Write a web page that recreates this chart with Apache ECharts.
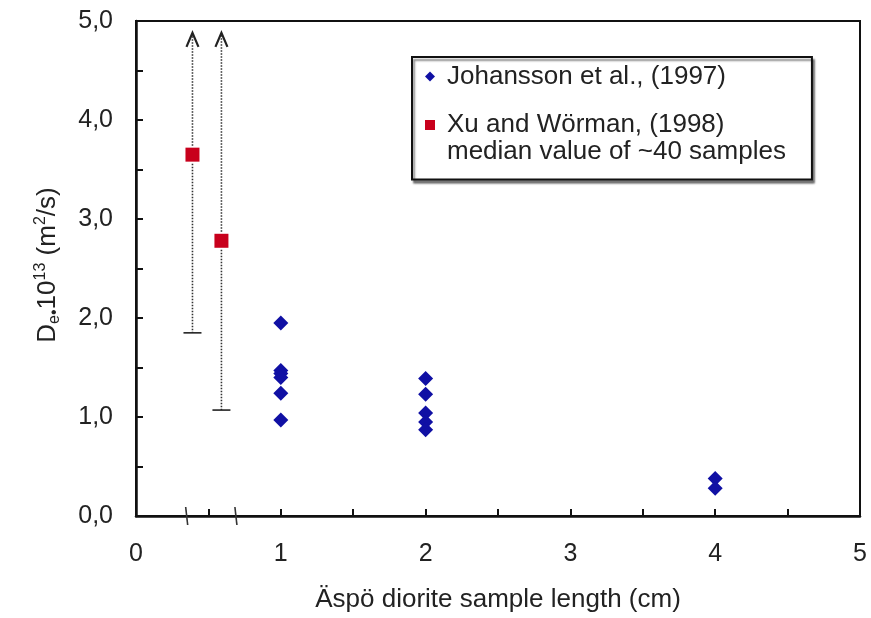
<!DOCTYPE html>
<html>
<head>
<meta charset="utf-8">
<script src="https://cdn.jsdelivr.net/npm/echarts@6/dist/echarts.min.js"></script>
<style>
html,body{margin:0;padding:0;background:#fff;}
#chart{width:871px;height:618px;}
</style>
</head>
<body>
<div id="chart"></div>
<script>
// Johansson et al. (1997): sample length (cm) and De*1e13 (m2/s)
const johLength = [1, 1, 1, 1, 1, 1, 2, 2, 2, 2, 2, 4, 4];
const johDe = [1.95, 1.47, 1.44, 1.40, 1.24, 0.97, 1.39, 1.23, 1.04, 0.95, 0.87, 0.38, 0.28];

// Xu and Wörman (1998): median of ~40 samples, with range
const xuLength = [0.39, 0.59];
const xuMedian = [3.65, 2.78];
const xuLow = [1.85, 1.07];
const xuHigh = [4.88, 4.88];
// marks on x axis (sample length range)
const xuLengthMarks = [0.35, 0.69];

const xTicks = [0, 1, 2, 3, 4, 5];
const yTicks = [0, 1, 2, 3, 4, 5];

const johName = 'Johansson et al., (1997)';
const xuName = 'Xu and Wörman, (1998)';
const xuNote = 'median value of ~40 samples';

const FONT = '"Liberation Sans", Arial, sans-serif';
const chart = echarts.init(document.getElementById('chart'), null, {renderer: 'canvas'});

const johData = johLength.map((x, i) => [x, johDe[i]]);
const xuData = xuLength.map((x, i) => [x, xuMedian[i]]);
const xuBarData = xuLength.map((x, i) => [x, xuMedian[i], xuLow[i], xuHigh[i]]);
const markData = xuLengthMarks.map(x => [x, 0]);

function fmtY(v) { return yTicks.indexOf(v) >= 0 ? v.toFixed(1).replace('.', ',') : ''; }
function fmtX(v) { return xTicks.indexOf(v) >= 0 ? String(v) : ''; }

const option = {
  backgroundColor: '#fff',
  animation: false,
  textStyle: {fontFamily: FONT},
  grid: {
    left: 136, right: 11, top: 21, bottom: 97,
    show: true, borderColor: '#111', borderWidth: 2, backgroundColor: 'transparent'
  },
  xAxis: {
    type: 'value', min: 0, max: 5, interval: 1,
    name: 'Äspö diorite sample length (cm)',
    nameLocation: 'middle', nameGap: 71,
    nameTextStyle: {fontSize: 26, color: '#222', fontFamily: FONT},
    axisLine: {show: true, onZero: false, lineStyle: {color: '#111', width: 2.5}},
    axisTick: {show: true, inside: true, length: 7, lineStyle: {color: '#111', width: 2}},
    minorTick: {show: true, splitNumber: 2, length: 7, lineStyle: {color: '#111', width: 2}},
    axisLabel: {fontSize: 25, color: '#222', margin: 26, fontFamily: FONT, formatter: fmtX},
    splitLine: {show: false}
  },
  yAxis: {
    type: 'value', min: 0, max: 5, interval: 1,
    axisLine: {show: true, onZero: false, lineStyle: {color: '#111', width: 2.5}},
    axisTick: {show: true, inside: true, length: 7, lineStyle: {color: '#111', width: 2}},
    minorTick: {show: true, splitNumber: 2, length: 7, lineStyle: {color: '#111', width: 2}},
    axisLabel: {fontSize: 25, color: '#222', margin: 23, fontFamily: FONT, formatter: fmtY},
    splitLine: {show: false}
  },
  legend: {
    left: 412, top: 57, orient: 'vertical',
    padding: [6, 26, 14, 13],
    itemWidth: 10, itemHeight: 10, itemGap: -5.5,
    borderColor: '#111', borderWidth: 2, backgroundColor: '#fff',
    shadowColor: 'rgba(0,0,0,0.45)', shadowBlur: 2, shadowOffsetX: 2, shadowOffsetY: 3,
    data: [johName, xuName],
    textStyle: {
      fontSize: 26, color: '#222', fontFamily: FONT, lineHeight: 27,
      rich: {
        a: {fontSize: 26, color: '#222', fontFamily: FONT, lineHeight: 27, padding: [0, 0, 0, 7]},
        e: {fontSize: 26, lineHeight: 27}
      }
    },
    formatter: function (name) {
      if (name === xuName) return '{e| }\n{a|' + xuName + '}\n{a|' + xuNote + '}';
      return '{a|' + name + '}';
    }
  },
  graphic: [{
    type: 'text', x: 48, y: 265, rotation: Math.PI / 2,
    style: {
      text: 'D{sub|e•}10{sup|13} (m{sup|2}/s)',
      fontSize: 26, fontFamily: FONT, fill: '#222',
      align: 'center', verticalAlign: 'middle',
      rich: {
        sub: {fontSize: 16, fontFamily: FONT, fill: '#222', padding: [13, 0, 0, 0]},
        sup: {fontSize: 16, fontFamily: FONT, fill: '#222', padding: [0, 0, 14, 0]}
      }
    }
  }],
  series: [
    {
      name: 'xuRange', type: 'custom', z: 2,
      data: xuBarData, silent: true,
      renderItem: function (params, api) {
        const x = api.value(0);
        const pm = api.coord([x, api.value(1)]);
        const pl = api.coord([x, api.value(2)]);
        const ph = api.coord([x, api.value(3)]);
        const dash = {stroke: '#333', lineWidth: 1.6, lineDash: [1.5, 1.5]};
        const solid = {stroke: '#222', lineWidth: 1.6};
        return {
          type: 'group',
          children: [
            {type: 'line', shape: {x1: pm[0], y1: pm[1] + 9, x2: pl[0], y2: pl[1]}, style: dash},
            {type: 'line', shape: {x1: pm[0], y1: pm[1] - 9, x2: ph[0], y2: ph[1] + 2}, style: dash},
            {type: 'line', shape: {x1: pl[0] - 9, y1: pl[1], x2: pl[0] + 9, y2: pl[1]}, style: solid},
            {type: 'polyline', shape: {points: [[ph[0] - 6, ph[1] + 14], [ph[0], ph[1]], [ph[0] + 6, ph[1] + 14]]}, style: {stroke: '#222', lineWidth: 2.2, fill: null}}
          ]
        };
      }
    },
    {
      name: 'xuMarks', type: 'custom', z: 3, silent: true,
      data: markData,
      renderItem: function (params, api) {
        const p = api.coord([api.value(0), api.value(1)]);
        return {
          type: 'line',
          shape: {x1: p[0] - 1, y1: p[1] - 9, x2: p[0] + 1, y2: p[1] + 9},
          style: {stroke: '#333', lineWidth: 1.6}
        };
      }
    },
    {
      name: johName, type: 'scatter', z: 5,
      symbol: 'diamond', symbolSize: [15, 15],
      itemStyle: {color: '#1010a4', opacity: 1},
      data: johData
    },
    {
      name: xuName, type: 'scatter', z: 5,
      symbol: 'rect', symbolSize: 14,
      itemStyle: {color: '#c8001c', opacity: 1},
      data: xuData
    }
  ]
};
chart.setOption(option);
</script>
</body>
</html>
